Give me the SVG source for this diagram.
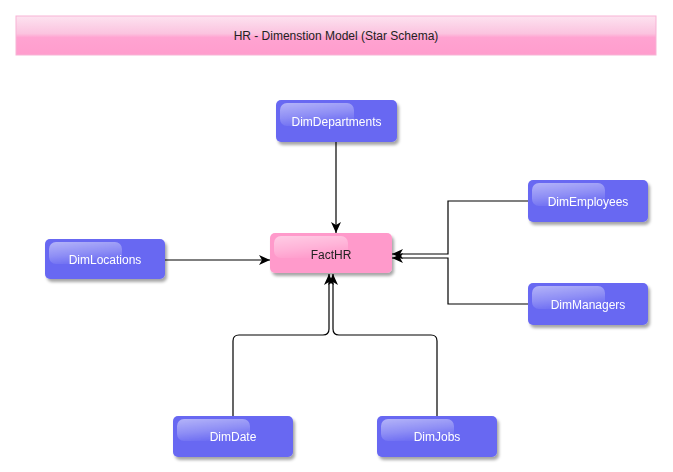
<svg xmlns="http://www.w3.org/2000/svg" width="673" height="472" viewBox="0 0 673 472">
<style>
text{font-family:"Liberation Sans",Arial,sans-serif;font-size:12px;text-anchor:middle}
.dim .box{fill:#6868f2}
.dim text{fill:#ffffff}
.fact .box{fill:#ff9acb}
.fact text{fill:#222222}
.gloss{fill:url(#gl)}
.conn path{fill:none;stroke:#000;stroke-width:1.2;marker-end:url(#ah)}
</style>
<defs>
<filter id="sh" x="-10%" y="-10%" width="130%" height="140%">
<feDropShadow dx="2" dy="3" stdDeviation="1.5" flood-color="#000" flood-opacity="0.35"/>
</filter>
<linearGradient id="gl" x1="0" y1="0" x2="0.35" y2="1">
<stop offset="0" stop-color="#fff" stop-opacity="0.5"/>
<stop offset="0.6" stop-color="#fff" stop-opacity="0.25"/>
<stop offset="1" stop-color="#fff" stop-opacity="0.04"/>
</linearGradient>
<linearGradient id="tg" x1="0" y1="0" x2="0" y2="1">
<stop offset="0" stop-color="#fde3f0"/>
<stop offset="0.45" stop-color="#fbc3df"/>
<stop offset="0.55" stop-color="#ffa3d1"/>
<stop offset="1" stop-color="#ff9dcd"/>
</linearGradient>
<marker id="ah" markerUnits="userSpaceOnUse" markerWidth="12" markerHeight="10" refX="11" refY="5" orient="auto">
<path d="M0,0 L11,5 L0,10 L3,5 z" fill="#000"/>
</marker>
</defs>
<g id="title">
<rect x="16" y="16" width="640" height="39" fill="url(#tg)" stroke="#f7b3d5" stroke-width="1"/>
<text x="336" y="40" fill="#222">HR - Dimenstion Model (Star Schema)</text>
</g>
<g class="conn" id="connectors">
<path d="M336,142 V233"/>
<path d="M165,260 H270"/>
<path d="M528,201 H448 V254 H392"/>
<path d="M528,304 H448 V258 H392"/>
<path d="M233,416 V341 Q233,335 239,335 H323 Q329,335 329,329 V274"/>
<path d="M437,416 V341 Q437,335 431,335 H339 Q333,335 333,329 V274"/>
</g>
<g id="DimDepartments" class="dim" filter="url(#sh)">
<rect class="box" x="276" y="100" width="121" height="42" rx="5"/>
<rect class="gloss" x="280" y="103" width="74" height="23" rx="7"/>
<text x="336.5" y="126">DimDepartments</text>
</g>
<g id="FactHR" class="fact" filter="url(#sh)">
<rect class="box" x="270" y="233" width="122" height="40" rx="5"/>
<rect class="gloss" x="274" y="236" width="74" height="22" rx="7"/>
<text x="331" y="259">FactHR</text>
</g>
<g id="DimLocations" class="dim" filter="url(#sh)">
<rect class="box" x="45" y="239" width="120" height="40" rx="5"/>
<rect class="gloss" x="49" y="242" width="73" height="22" rx="7"/>
<text x="105" y="264">DimLocations</text>
</g>
<g id="DimEmployees" class="dim" filter="url(#sh)">
<rect class="box" x="528" y="180" width="120" height="42" rx="5"/>
<rect class="gloss" x="532" y="183" width="73" height="23" rx="7"/>
<text x="588" y="206">DimEmployees</text>
</g>
<g id="DimManagers" class="dim" filter="url(#sh)">
<rect class="box" x="528" y="283" width="120" height="42" rx="5"/>
<rect class="gloss" x="532" y="286" width="73" height="23" rx="7"/>
<text x="588" y="309">DimManagers</text>
</g>
<g id="DimDate" class="dim" filter="url(#sh)">
<rect class="box" x="173" y="416" width="120" height="41" rx="5"/>
<rect class="gloss" x="177" y="419" width="73" height="22" rx="7"/>
<text x="233" y="441">DimDate</text>
</g>
<g id="DimJobs" class="dim" filter="url(#sh)">
<rect class="box" x="377" y="416" width="120" height="41" rx="5"/>
<rect class="gloss" x="381" y="419" width="73" height="22" rx="7"/>
<text x="437" y="441">DimJobs</text>
</g>
</svg>
